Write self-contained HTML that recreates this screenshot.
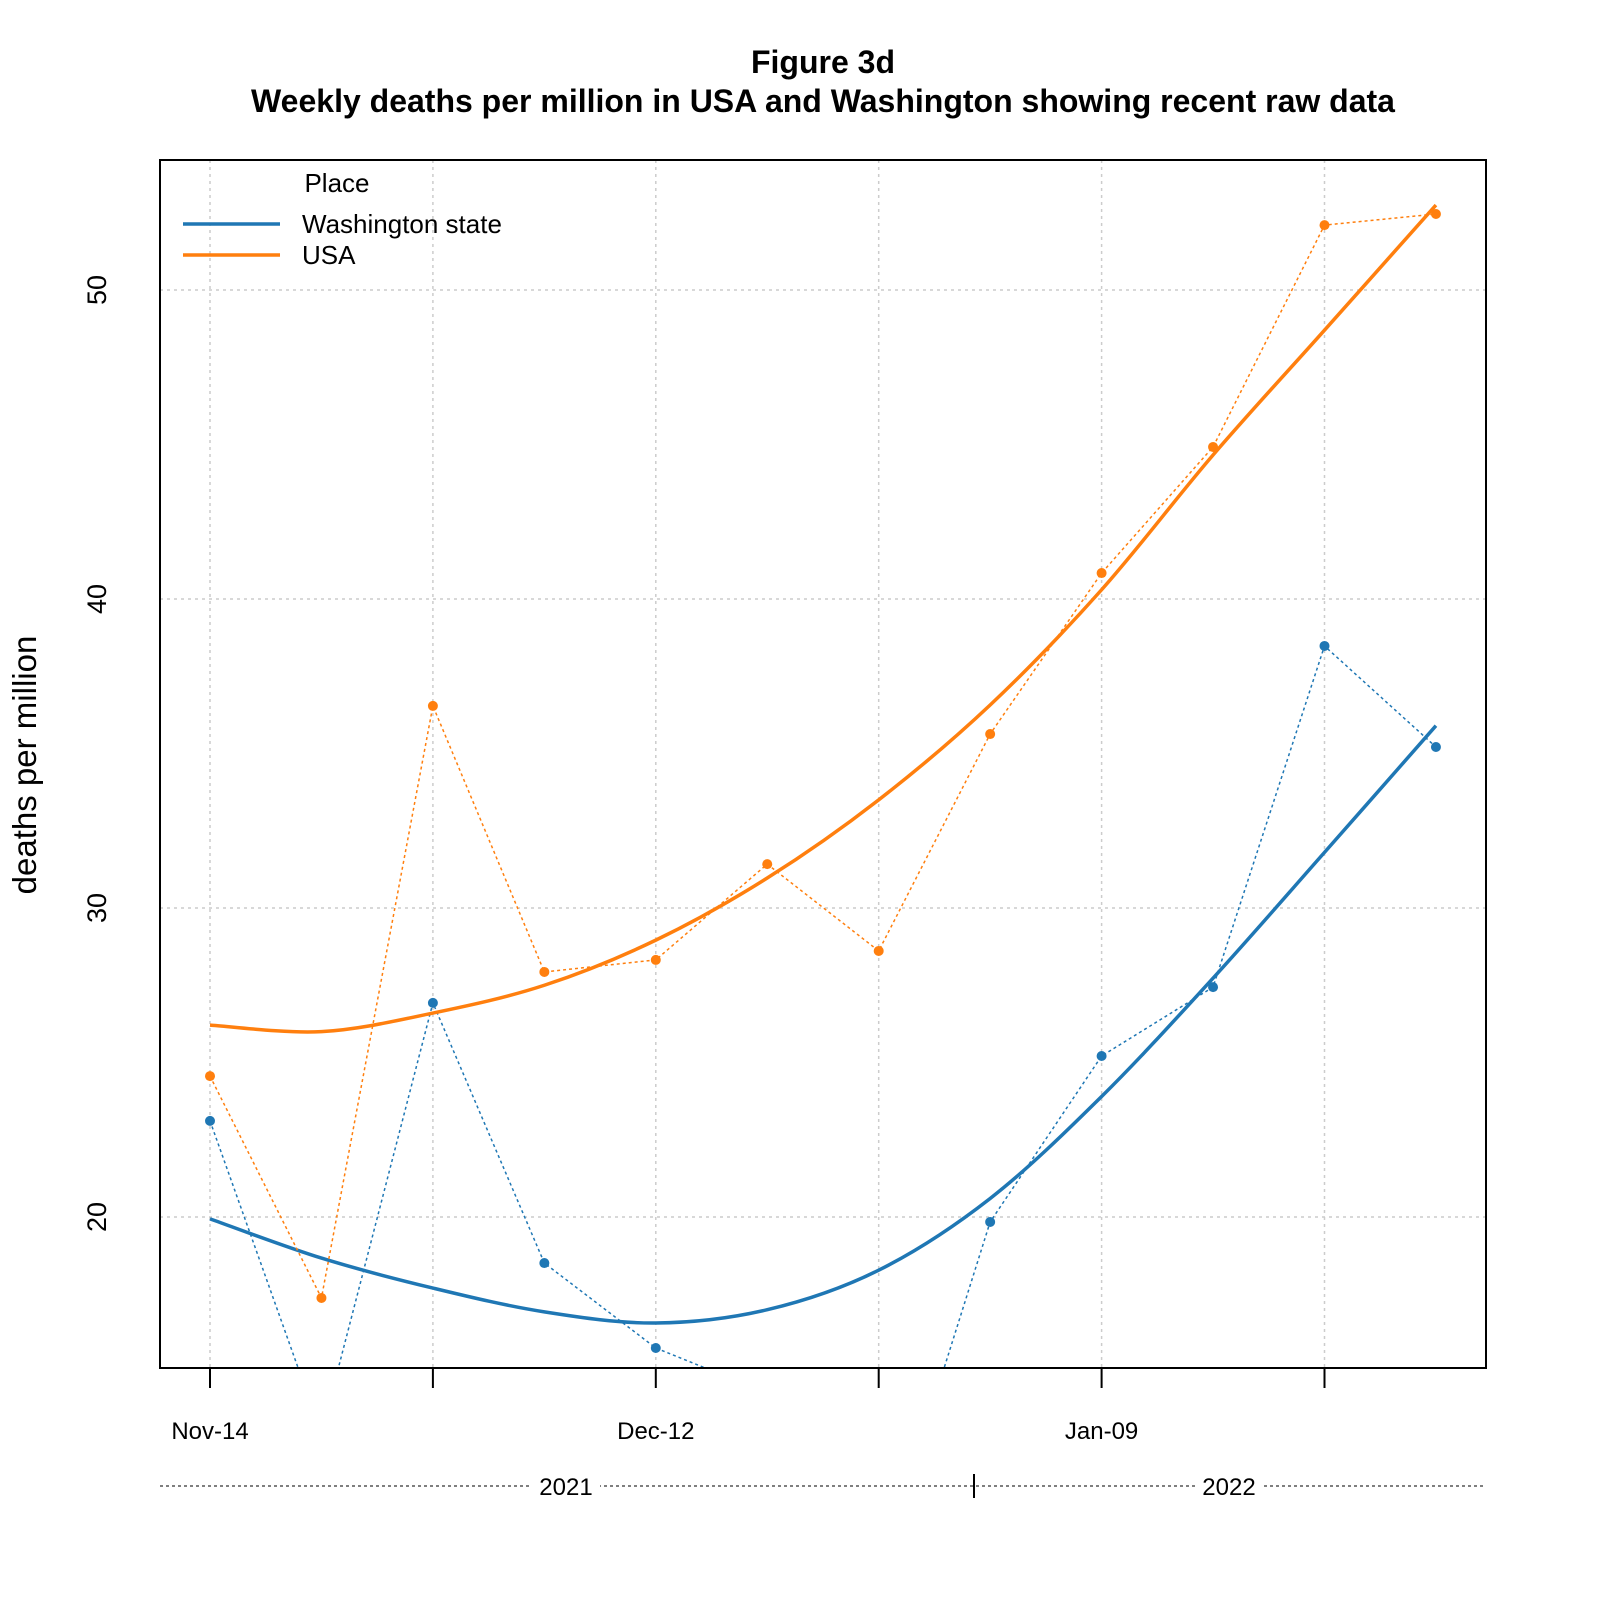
<!DOCTYPE html>
<html><head><meta charset="utf-8"><style>
html,body{margin:0;padding:0;background:#fff;}
svg{display:block;font-family:"Liberation Sans",Arial,sans-serif;}
</style></head><body>
<svg id="chart" width="1600" height="1600" viewBox="0 0 1600 1600">
<text x="823" y="73" text-anchor="middle" font-size="32" font-weight="bold">Figure 3d</text>
<text x="823" y="112" text-anchor="middle" font-size="32" font-weight="bold">Weekly deaths per million in USA and Washington showing recent raw data</text>
<text transform="translate(36,765) rotate(-90)" text-anchor="middle" font-size="33">deaths per million</text>
<g id="grid"></g>
<g id="yaxis"></g>
<g id="xaxis"></g>
<defs><clipPath id="clip"><rect x="160" y="160" width="1326" height="1208"/></clipPath></defs>
<g id="series" clip-path="url(#clip)"></g>
<rect x="160" y="160" width="1326" height="1208" fill="none" stroke="#000" stroke-width="2"/>
<g>
<text x="337" y="192" text-anchor="middle" font-size="26">Place</text>
<line x1="183" y1="224" x2="280" y2="224" stroke="#1f77b4" stroke-width="3.5"/>
<text x="302" y="233" font-size="26">Washington state</text>
<line x1="183" y1="255" x2="280" y2="255" stroke="#ff7f0e" stroke-width="3.5"/>
<text x="302" y="264" font-size="26">USA</text>
</g>
<g>
<line x1="160" y1="1486" x2="1486" y2="1486" stroke="#555" stroke-width="1.5" stroke-dasharray="3,3"/>
<line x1="974" y1="1474" x2="974" y2="1498" stroke="#000" stroke-width="2"/>
<rect x="532" y="1472" width="68" height="28" fill="#fff"/>
<text x="566" y="1495" text-anchor="middle" font-size="24">2021</text>
<rect x="1195" y="1472" width="68" height="28" fill="#fff"/>
<text x="1229" y="1495" text-anchor="middle" font-size="24">2022</text>
</g>
</svg>
<script>
const weeks = [0,1,2,3,4,5,6,7,8,9,10,11];
const usaRaw = [24.56,17.38,36.54,27.93,28.32,31.42,28.61,35.63,40.84,44.92,52.10,52.46];
const waRaw = [23.11,13.0,26.93,18.51,15.76,14.3,8.4,19.84,25.21,27.44,38.48,35.21];
const usaFit = [26.21,26.0,26.6,27.5,28.96,30.97,33.5,36.57,40.3,44.66,48.7,52.75];
const waFit = [19.94,18.67,17.7,16.93,16.57,17.0,18.28,20.6,23.9,27.73,31.8,35.9];
const yTicks = [20,30,40,50];
const xTickWeeks = [0,2,4,6,8,10];
const xLabelWeeks = [0,4,8];
const xLabels = ["Nov-14","Dec-12","Jan-09"];

const NS="http://www.w3.org/2000/svg";
const xs = w => 210 + w*111.45;
const ys = v => 290 + (50 - v)*30.9;
function mk(tag, attrs, parent){const e=document.createElementNS(NS,tag);for(const k in attrs)e.setAttribute(k,attrs[k]);parent.appendChild(e);return e;}
const grid=document.getElementById('grid'), yax=document.getElementById('yaxis'), xax=document.getElementById('xaxis'), ser=document.getElementById('series');

yTicks.forEach(v=>{
  const g=mk('line',{x1:160,x2:1486,y1:ys(v),y2:ys(v),stroke:'#ccc','stroke-width':1.5,'stroke-dasharray':'3,4'},grid);
  
  
  const t=mk('text',{transform:`translate(106,${ys(v)}) rotate(-90)`,'text-anchor':'middle','font-size':27},yax);
  t.textContent=v;
  
  
});
xTickWeeks.forEach(w=>{
  const g=mk('line',{x1:xs(w),x2:xs(w),y1:160,y2:1368,stroke:'#ccc','stroke-width':1.5,'stroke-dasharray':'3,4'},grid);
  
  
  const t=mk('line',{x1:xs(w),x2:xs(w),y1:1368,y2:1388,stroke:'#000','stroke-width':2},xax);
  
  
});
xLabelWeeks.forEach((w,i)=>{
  const t=mk('text',{x:xs(w),y:1439,'text-anchor':'middle','font-size':24},xax);
  t.textContent=xLabels[i];
  
  
});
function smoothPath(vals){
  const p=vals.map((v,i)=>[xs(weeks[i]),ys(v)]);
  let d=`M${p[0][0]},${p[0][1]}`;
  for(let i=0;i<p.length-1;i++){
    const p0=p[Math.max(0,i-1)],p1=p[i],p2=p[i+1],p3=p[Math.min(p.length-1,i+2)];
    const c1=[p1[0]+(p2[0]-p0[0])/6,p1[1]+(p2[1]-p0[1])/6];
    const c2=[p2[0]-(p3[0]-p1[0])/6,p2[1]-(p3[1]-p1[1])/6];
    d+=` C${c1[0]},${c1[1]} ${c2[0]},${c2[1]} ${p2[0]},${p2[1]}`;
  }
  return d;
}
function series(raw,fit,color,name){
  const pts=raw.map((v,i)=>xs(weeks[i])+','+ys(v)).join(' ');
  const l=mk('polyline',{points:pts,fill:'none',stroke:color,'stroke-width':1.5,'stroke-dasharray':'3,3'},ser);
  
  
  raw.forEach((v,i)=>{
    const c=mk('circle',{cx:xs(weeks[i]),cy:ys(v),r:5,fill:color},ser);
    
    
  });
  const s=mk('path',{d:smoothPath(fit),fill:'none',stroke:color,'stroke-width':3.5},ser);
  
  
}
series(waRaw,waFit,'#1f77b4','washington');
series(usaRaw,usaFit,'#ff7f0e','usa');
</script>
</body></html>
